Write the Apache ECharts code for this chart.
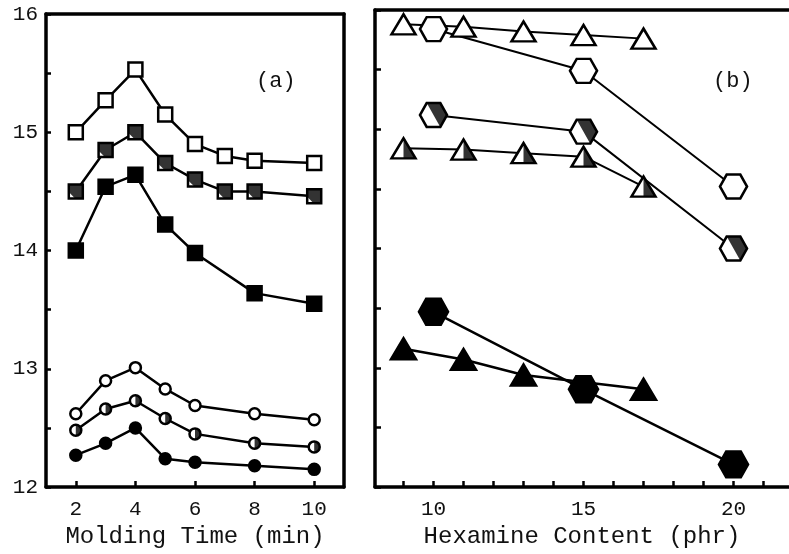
<!DOCTYPE html>
<html>
<head>
<meta charset="utf-8">
<script src="https://cdn.jsdelivr.net/npm/echarts@6/dist/echarts.min.js"></script>
<style>html,body{margin:0;padding:0;background:#fff}#c{width:789px;height:554px}</style>
</head>
<body>
<div id="c"></div>
<script>
// ---- Panel (a): Molding Time (min) ----
var timeA = [2, 3, 4, 5, 6, 7, 8, 10];
var timeB = [2, 3, 4, 5, 6, 8, 10];
var openSquare = [15.00, 15.27, 15.53, 15.15, 14.90, 14.80, 14.76, 14.74];
var halfSquare = [14.50, 14.85, 15.00, 14.74, 14.60, 14.50, 14.50, 14.46];
var fullSquare = [14.00, 14.54, 14.64, 14.22, 13.98, 13.64, 13.55];
var openCircle = [12.62, 12.90, 13.01, 12.83, 12.69, 12.62, 12.57];
var halfCircle = [12.48, 12.66, 12.73, 12.58, 12.45, 12.37, 12.34];
var fullCircle = [12.27, 12.37, 12.50, 12.24, 12.21, 12.18, 12.15];

// ---- Panel (b): Hexamine Content (phr) ----
var hexX = [10, 15, 20];
var openHex = [15.84, 15.49, 14.52];
var halfHex = [15.12, 14.98, 14.00];
var fullHex = [13.47, 12.82, 12.19];
var triX = [9, 11, 13, 15, 17];
var openTri = [15.88, 15.86, 15.82, 15.79, 15.76];
var halfTri = [14.84, 14.83, 14.80, 14.77, 14.52];
var triXF = [9, 11, 13, 17];
var fullTri = [13.16, 13.07, 12.94, 12.82];

// ---- tick labels ----
var yLabels = [12, 13, 14, 15, 16];
var yTicks = [12, 12.5, 13, 13.5, 14, 14.5, 15, 15.5, 16];
var xLabelsA = [2, 4, 6, 8, 10];
var xLabelsB = [10, 15, 20];
var xTicksB = [9, 10, 11, 12, 13, 14, 15, 16, 17, 18, 19, 20, 21];

function pairs(xs, ys) { return xs.map(function (x, i) { return [x, ys[i]]; }); }

var FONT = 'Liberation Mono';
// tiny specks at the bounding-box corners keep half-shapes aligned with the full shapes
var SPECK = ' M0 0 L0.02 0 L0 0.02 Z M20 20 L19.98 20 L20 19.98 Z';
var HEX = 'path://M0 10 L5 0 L15 0 L20 10 L15 20 L5 20 Z';
var HEX_HALF = 'path://M5 0 L15 0 L20 10 L15 20 Z' + SPECK;
var TRI = 'path://M10 0 L20 20 L0 20 Z';
var TRI_HALF = 'path://M10 0 L20 20 L10 20 Z' + SPECK;
var SQ_HALF = 'path://M0 0 L20 0 L20 20 L9 20 L0 11 Z';
var CIR_HALF = 'path://M10 0 A10 10 0 0 1 10 20 Z' + SPECK;

function lineSeries(xi, yi, data, symbol, size, fill, lw) {
  return {
    type: 'line', xAxisIndex: xi, yAxisIndex: yi, data: data,
    symbol: symbol, symbolSize: size, showSymbol: true, animation: false,
    lineStyle: { color: '#000', width: lw },
    itemStyle: { color: fill, borderColor: '#000', borderWidth: 2.5 },
    z: 2
  };
}
function overlay(xi, yi, data, symbol, size) {
  return {
    type: 'scatter', xAxisIndex: xi, yAxisIndex: yi, data: data,
    symbol: symbol, symbolSize: size, animation: false,
    itemStyle: { color: '#000', borderWidth: 0 }, z: 4
  };
}

var chart = echarts.init(document.getElementById('c'), null, { renderer: 'canvas' });
var axisLine = { show: true, lineStyle: { color: '#000', width: 3.5 } };
var hidden = { show: false };

var option = {
  backgroundColor: '#fff',
  animation: false,
  grid: [
    { left: 46, right: 445, top: 14, bottom: 63 },
    { left: 375, right: 0, top: 10, bottom: 63 }
  ],
  xAxis: [
    { gridIndex: 0, type: 'value', min: 1, max: 11, position: 'bottom',
      axisLine: axisLine,
      axisTick: { show: true, inside: true, length: 6, customValues: xLabelsA, lineStyle: { color: '#000', width: 2.5 } },
      axisLabel: { customValues: xLabelsA, margin: 12, fontFamily: FONT, fontSize: 21, color: '#111' },
      splitLine: hidden,
      name: 'Molding Time (min)', nameLocation: 'middle', nameGap: 34,
      nameTextStyle: { fontFamily: FONT, fontSize: 24, color: '#111' } },
    { gridIndex: 0, type: 'value', min: 1, max: 11, position: 'top',
      axisLine: axisLine, axisTick: hidden, axisLabel: hidden, splitLine: hidden },
    { gridIndex: 1, type: 'value', min: 8.05, max: 21.85, position: 'bottom',
      axisLine: axisLine,
      axisTick: { show: true, inside: true, length: 6, customValues: xTicksB, lineStyle: { color: '#000', width: 2.5 } },
      axisLabel: { customValues: xLabelsB, margin: 12, fontFamily: FONT, fontSize: 21, color: '#111' },
      splitLine: hidden,
      name: 'Hexamine Content (phr)', nameLocation: 'middle', nameGap: 34,
      nameTextStyle: { fontFamily: FONT, fontSize: 24, color: '#111' } },
    { gridIndex: 1, type: 'value', min: 8.05, max: 21.85, position: 'top',
      axisLine: axisLine, axisTick: hidden, axisLabel: hidden, splitLine: hidden }
  ],
  yAxis: [
    { gridIndex: 0, type: 'value', min: 12, max: 16, position: 'left',
      axisLine: axisLine,
      axisTick: { show: true, inside: true, length: 5, customValues: yTicks, lineStyle: { color: '#000', width: 2.5 } },
      axisLabel: { customValues: yLabels, margin: 8, fontFamily: FONT, fontSize: 21, color: '#111' },
      splitLine: hidden },
    { gridIndex: 0, type: 'value', min: 12, max: 16, position: 'right',
      axisLine: axisLine, axisTick: hidden, axisLabel: hidden, splitLine: hidden },
    { gridIndex: 1, type: 'value', min: 12, max: 16, position: 'left',
      axisLine: axisLine,
      axisTick: { show: true, inside: true, length: 6, customValues: yTicks, lineStyle: { color: '#000', width: 2.5 } },
      axisLabel: hidden, splitLine: hidden }
  ],
  graphic: [
    { type: 'text', left: 256, top: 70, style: { text: '(a)', font: '22px "Liberation Mono"', fill: '#111' } },
    { type: 'text', left: 713, top: 70, style: { text: '(b)', font: '22px "Liberation Mono"', fill: '#111' } }
  ],
  series: [
    // panel (a)
    lineSeries(0, 0, pairs(timeA, openSquare), 'rect', 14, '#fff', 2.5),
    lineSeries(0, 0, pairs(timeA, halfSquare), 'rect', 14, '#fff', 2.5),
    overlay(0, 0, pairs(timeA, halfSquare), SQ_HALF, 14),
    lineSeries(0, 0, pairs(timeB, fullSquare), 'rect', 14, '#000', 2.5),
    lineSeries(0, 0, pairs(timeB, openCircle), 'circle', 11, '#fff', 2.5),
    lineSeries(0, 0, pairs(timeB, halfCircle), 'circle', 11, '#fff', 2.5),
    overlay(0, 0, pairs(timeB, halfCircle), CIR_HALF, 11),
    lineSeries(0, 0, pairs(timeB, fullCircle), 'circle', 11, '#000', 2.5),
    // panel (b)
    lineSeries(2, 2, pairs(triX, openTri), TRI, [24, 20], '#fff', 2),
    lineSeries(2, 2, pairs(hexX, openHex), HEX, [27, 24], '#fff', 2),
    lineSeries(2, 2, pairs(hexX, halfHex), HEX, [27, 24], '#fff', 2),
    overlay(2, 2, pairs(hexX, halfHex), HEX_HALF, [27, 24]),
    lineSeries(2, 2, pairs(triX, halfTri), TRI, [24, 20], '#fff', 2),
    overlay(2, 2, pairs(triX, halfTri), TRI_HALF, [24, 20]),
    lineSeries(2, 2, pairs(hexX, fullHex), HEX, [29, 26], '#000', 2.5),
    lineSeries(2, 2, pairs(triXF, fullTri), TRI, [25, 21], '#000', 2.5)
  ]
};
chart.setOption(option);
</script>
</body>
</html>
